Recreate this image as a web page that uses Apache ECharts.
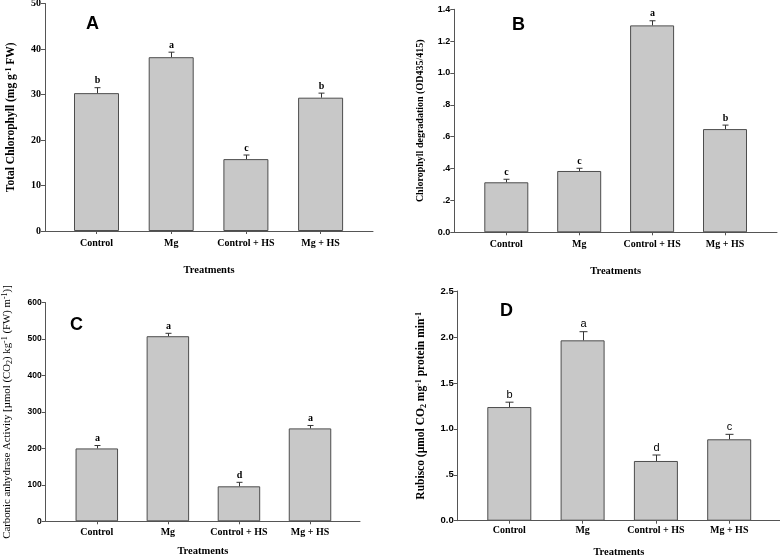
<!DOCTYPE html>
<html>
<head>
<meta charset="utf-8">
<script src="https://cdn.jsdelivr.net/npm/echarts@6/dist/echarts.min.js"></script>
<style>html,body{margin:0;padding:0;background:#fff}#c{width:780px;height:555px}</style>
</head>
<body>
<div id="c"></div>
<script>
// ---- data ----
const categories = ['Control', 'Mg', 'Control + HS', 'Mg + HS'];
const xTitle = 'Treatments';

const chlorophyllA = [30.3, 38.2, 15.8, 29.3];
const chlorophyllA_se = [1.2, 1.1, 0.9, 1.0];
const chlorophyllA_letters = ['b', 'a', 'c', 'b'];
const yTicksA = [0, 10, 20, 30, 40, 50];

const degradationB = [0.314, 0.385, 1.299, 0.648];
const degradationB_se = [0.019, 0.017, 0.029, 0.025];
const degradationB_letters = ['c', 'c', 'a', 'b'];
const yTicksB = ['0.0', '.2', '.4', '.6', '.8', '1.0', '1.2', '1.4'];

const carbonicC = [200, 508, 96, 255];
const carbonicC_se = [8, 8, 11, 8];
const carbonicC_letters = ['a', 'a', 'd', 'a'];
const yTicksC = [0, 100, 200, 300, 400, 500, 600];

const rubiscoD = [1.237, 1.963, 0.650, 0.886];
const rubiscoD_se = [0.053, 0.094, 0.065, 0.054];
const rubiscoD_letters = ['b', 'a', 'd', 'c'];
const yTicksD = ['0.0', '.5', '1.0', '1.5', '2.0', '2.5'];

// ---- layout / styles ----
const SERIF = '"Liberation Serif", "Times New Roman", serif';
const SANS = '"Liberation Sans", Arial, sans-serif';
const AXIS_COLOR = '#555';
const BAR_FILL = '#c8c8c8';
const BAR_BORDER = '#4d4d4d';

const panels = [
  { tag: 'A', tagPos: [86, 15], axisX: 45, top: 3.5, bottom: 231, firstC: 96.5, step: 74.7, frameEnd: 373, barW: 45,
    vals: chlorophyllA, se: chlorophyllA_se, letters: chlorophyllA_letters, max: 50, interval: 10,
    tickFmt: v => String(Math.round(v)), tickFont: { fontFamily: SERIF, fontWeight: 'bold', fontSize: 10 },
    name: 'Total Chlorophyll (mg g{sup|-1} FW)', nameFont: { fontFamily: SERIF, fontWeight: 'bold', fontSize: 11.5 }, nameGap: 27,
    letterFont: { fontFamily: SERIF, fontWeight: 'bold', fontSize: 10 }, cap: 6, catMargin: 7, xNameGap: 34 },
  { tag: 'B', tagPos: [512, 16], axisX: 454.3, top: 9.3, bottom: 232.3, firstC: 506.3, step: 72.9, frameEnd: 777, barW: 44,
    vals: degradationB, se: degradationB_se, letters: degradationB_letters, max: 1.4, interval: 0.2,
    tickFmt: v => yTicksB[Math.round(v / 0.2)], tickFont: { fontFamily: SANS, fontWeight: 'bold', fontSize: 9 },
    name: 'Chlorophyll degradation (OD435/415)', nameFont: { fontFamily: SERIF, fontWeight: 'bold', fontSize: 10 }, nameGap: 29,
    letterFont: { fontFamily: SERIF, fontWeight: 'bold', fontSize: 10 }, cap: 6, catMargin: 7, xNameGap: 33 },
  { tag: 'C', tagPos: [70, 316], axisX: 45.7, top: 302.7, bottom: 521.3, firstC: 96.8, step: 71.07, frameEnd: 360, barW: 42.5,
    vals: carbonicC, se: carbonicC_se, letters: carbonicC_letters, max: 600, interval: 100,
    tickFmt: v => String(Math.round(v)), tickFont: { fontFamily: SANS, fontWeight: 'bold', fontSize: 8.5 },
    name: 'Carbonic anhydrase Activity [µmol (CO{sub|2}) kg{sup|-1} (FW) m{sup|-1})]', nameFont: { fontFamily: SERIF, fontWeight: 'normal', fontSize: 10.8 }, nameGap: 32,
    letterFont: { fontFamily: SERIF, fontWeight: 'bold', fontSize: 10 }, cap: 6, catMargin: 6, xNameGap: 24 },
  { tag: 'D', tagPos: [500, 302], axisX: 457.7, top: 291, bottom: 520.7, firstC: 509.3, step: 73.3, frameEnd: 780, barW: 44,
    vals: rubiscoD, se: rubiscoD_se, letters: rubiscoD_letters, max: 2.5, interval: 0.5,
    tickFmt: v => yTicksD[Math.round(v / 0.5)], tickFont: { fontFamily: SANS, fontWeight: 'bold', fontSize: 9.5 },
    name: 'Rubisco (µmol CO{sub|2} mg{sup|-1} protein min{sup|-1}', nameFont: { fontFamily: SERIF, fontWeight: 'bold', fontSize: 11.5 }, nameGap: 30,
    letterFont: { fontFamily: SANS, fontWeight: 'normal', fontSize: 11 }, cap: 8, catMargin: 5, xNameGap: 26 }
];

const option = { animation: false, backgroundColor: '#fff', title: [], grid: [], xAxis: [], yAxis: [], series: [] };

panels.forEach((p, k) => {
  const gLeft = p.firstC - p.step / 2;
  const gWidth = p.step * 4;
  const gB = 2 * k, gF = 2 * k + 1;
  option.title.push({ text: p.tag, left: p.tagPos[0], top: p.tagPos[1], padding: 0,
    textStyle: { fontFamily: SANS, fontWeight: 'bold', fontSize: 18, color: '#000' } });
  option.grid.push({ left: gLeft, width: gWidth, top: p.top, height: p.bottom - p.top, outerBoundsMode: 'none', containLabel: false });
  option.grid.push({ left: p.axisX, width: p.frameEnd - p.axisX, top: p.top, height: p.bottom - p.top, outerBoundsMode: 'none', containLabel: false });

  const fs = p.nameFont.fontSize;
  const rich = {
    sup: { fontFamily: p.nameFont.fontFamily, fontWeight: p.nameFont.fontWeight, fontSize: Math.round(fs * 0.72), verticalAlign: 'top', padding: [0, 0, 5, 0] },
    sub: { fontFamily: p.nameFont.fontFamily, fontWeight: p.nameFont.fontWeight, fontSize: Math.round(fs * 0.72), verticalAlign: 'bottom', padding: [4, 0, 0, 0] }
  };

  option.xAxis.push({ type: 'category', gridIndex: gB, data: categories,
    axisLine: { show: false }, axisTick: { show: true, alignWithLabel: true, length: 3, lineStyle: { color: AXIS_COLOR } },
    axisLabel: { margin: p.catMargin, color: '#000', fontFamily: SERIF, fontWeight: 'bold', fontSize: 10, interval: 0 } });
  option.xAxis.push({ type: 'value', gridIndex: gF, min: 0, max: 1,
    axisLine: { show: true, lineStyle: { color: AXIS_COLOR, width: 1 } }, axisTick: { show: false }, axisLabel: { show: false },
    splitLine: { show: false },
    name: xTitle, nameLocation: 'middle', nameGap: p.xNameGap,
    nameTextStyle: { fontFamily: SERIF, fontWeight: 'bold', fontSize: 10.5, color: '#000' } });

  option.yAxis.push({ type: 'value', gridIndex: gB, min: 0, max: p.max, interval: p.interval, offset: gLeft - p.axisX,
    axisLine: { show: true, lineStyle: { color: AXIS_COLOR, width: 1 } },
    axisTick: { show: true, length: 4, lineStyle: { color: AXIS_COLOR } },
    splitLine: { show: false },
    axisLabel: Object.assign({ color: '#000', margin: 4, formatter: p.tickFmt }, p.tickFont),
    name: p.name, nameLocation: 'middle', nameGap: p.nameGap, nameRotate: 90,
    nameTextStyle: Object.assign({ color: '#000', rich: rich }, p.nameFont) });
  option.yAxis.push({ type: 'value', gridIndex: gF, min: 0, max: 1, show: false });

  option.series.push({ type: 'bar', xAxisIndex: gB, yAxisIndex: gB, data: p.vals, barWidth: p.barW,
    itemStyle: { color: BAR_FILL, borderColor: BAR_BORDER, borderWidth: 1 }, z: 2 });

  const letters = p.letters;
  const cap = p.cap;
  const lf = p.letterFont;
  option.series.push({ type: 'custom', xAxisIndex: gB, yAxisIndex: gB, z: 3,
    data: p.vals.map((v, i) => [i, v, v + p.se[i]]),
    renderItem: function (params, api) {
      const base = api.coord([api.value(0), api.value(1)]);
      const top = api.coord([api.value(0), api.value(2)]);
      const x = Math.round(base[0]) + 0.5;
      return { type: 'group', children: [
        { type: 'line', shape: { x1: x, y1: base[1], x2: x, y2: top[1] }, style: { stroke: '#333', lineWidth: 1 } },
        { type: 'line', shape: { x1: x - cap / 2, y1: top[1], x2: x + cap / 2, y2: top[1] }, style: { stroke: '#333', lineWidth: 1 } },
        { type: 'text', x: x, y: top[1] - 2, style: { text: letters[params.dataIndex], fill: '#000',
          font: (lf.fontWeight === 'bold' ? 'bold ' : '') + lf.fontSize + 'px ' + lf.fontFamily,
          align: 'center', verticalAlign: 'bottom' } }
      ] };
    } });
});

const chart = echarts.init(document.getElementById('c'), null, { renderer: 'canvas' });
chart.setOption(option);
</script>
</body>
</html>
